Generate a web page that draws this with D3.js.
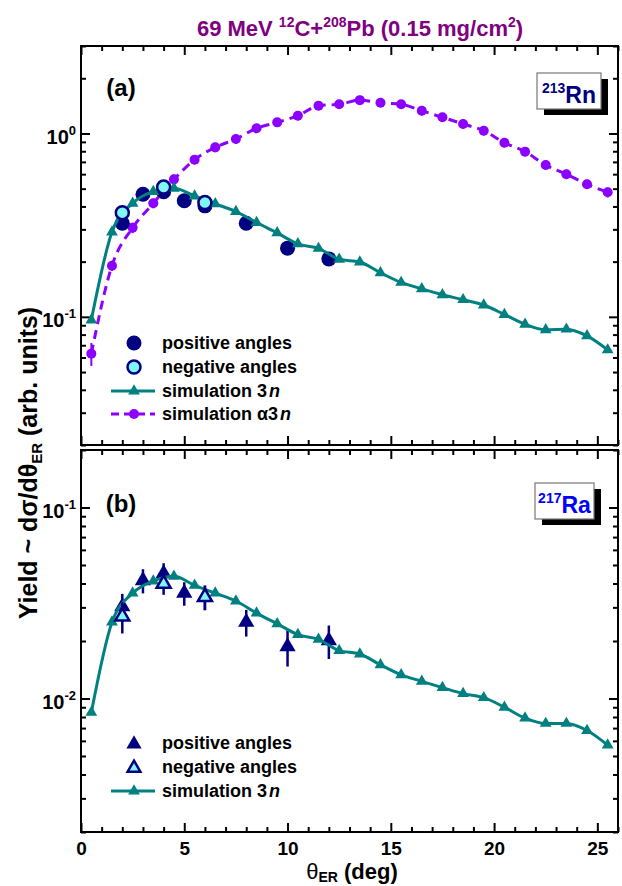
<!DOCTYPE html>
<html>
<head>
<meta charset="utf-8">
<script src="https://cdn.jsdelivr.net/npm/d3@7"></script>
<style>
  body { margin: 0; background: #fff; }
  svg text { font-family: "Liberation Sans", Arial, Helvetica, sans-serif; font-weight: bold; }
</style>
</head>
<body>
<svg id="chart" width="622" height="886"></svg>
<script>
// simulated curves are given at half-degree bin centres
const thetaSim = [0.5, 1.5, 2.5, 3.5, 4.5, 5.5, 6.5, 7.5, 8.5, 9.5, 10.5, 11.5, 12.5,
                  13.5, 14.5, 15.5, 16.5, 17.5, 18.5, 19.5, 20.5, 21.5, 22.5, 23.5, 24.5, 25.5];

// (a) 213Rn
const sim3nA = [0.096, 0.29, 0.416, 0.482, 0.502, 0.456, 0.413, 0.375, 0.327, 0.287, 0.25, 0.236, 0.206,
                0.199, 0.174, 0.154, 0.142, 0.132, 0.124, 0.116, 0.103, 0.091, 0.085, 0.0856, 0.0787, 0.066];
const simA3nA = [0.063, 0.19, 0.306, 0.416, 0.562, 0.72, 0.84, 0.933, 1.067, 1.15, 1.25, 1.418, 1.443,
                 1.52, 1.47, 1.443, 1.33, 1.225, 1.127, 1.035, 0.891, 0.796, 0.673, 0.599, 0.529, 0.478];
const simA3nErr = [0.009, 0.012, 0.02, 0.025, 0.035, 0.04, 0.05, 0.055, 0.06, 0.065, 0.07, 0.08, 0.08,
                   0.085, 0.08, 0.08, 0.075, 0.07, 0.065, 0.06, 0.05, 0.045, 0.04, 0.035, 0.03, 0.03];
const thetaPosA = [2, 3, 4, 5, 6, 8, 10, 12];
const posA = [0.324, 0.466, 0.481, 0.43, 0.403, 0.324, 0.237, 0.207];
const thetaNegA = [2, 4, 6];
const negA = [0.37, 0.51, 0.42];

// (b) 217Ra
const sim3nB = [0.00845, 0.0251, 0.0356, 0.0412, 0.0436, 0.0391, 0.0356, 0.0324, 0.028, 0.0246, 0.0216, 0.0204, 0.0178,
                0.0171, 0.015, 0.0133, 0.0123, 0.0114, 0.0106, 0.0101, 0.009, 0.0079, 0.0074, 0.0074, 0.0068, 0.0057];
const thetaPosB = [2, 3, 4, 5, 6, 8, 10, 12];
const posB = [0.0303, 0.0415, 0.0451, 0.0356, 0.034, 0.0251, 0.0187, 0.0201];
const posBErr = [0.005, 0.006, 0.006, 0.005, 0.005, 0.004, 0.004, 0.004];
const thetaNegB = [2, 4, 6];
const negB = [0.0269, 0.0399, 0.034];
const negBErr = [0.005, 0.005, 0.005];

const xMajor = [0, 5, 10, 15, 20, 25];
const decadesA = [0.1, 1];
const decadesB = [0.01, 0.1];

const TEAL = "#008080", VIOLET = "#8c00ff", NAVY = "#000080", CYAN = "#80f8f8";

const svg = d3.select("#chart");
const x = d3.scaleLinear().domain([0, 26]).range([81, 618]);
const yA = d3.scaleLog().domain([0.02, 3]).range([445, 46]);
const yB = d3.scaleLog().domain([0.002, 0.2]).range([832, 450]);

function styleAxis(sel) {
    sel.select(".domain").remove();
    sel.selectAll(".tick line").attr("stroke", "#000").attr("stroke-width", 2);
}

function drawFrame(y, decades, xLabels) {
    const [bottom, top] = y.range();
    const g = svg.append("g");
    const minorX = d3.range(0, 27).filter(v => v % 5 !== 0);
    const minorY = y.ticks().filter(v => !decades.includes(v));

    const axes = [
        [d3.axisBottom(x), bottom, "x"], [d3.axisTop(x), top, "x"],
        [d3.axisLeft(y), x(0), "y"], [d3.axisRight(y), x(26), "y"]
    ];
    axes.forEach(([ax, pos, dir]) => {
        const tr = dir === "x" ? `translate(0,${pos})` : `translate(${pos},0)`;
        const major = dir === "x" ? xMajor : decades;
        const minor = dir === "x" ? minorX : minorY;
        g.append("g").attr("transform", tr)
            .call(ax.tickValues(minor).tickSize(-5).tickFormat(""))
            .call(styleAxis);
        g.append("g").attr("transform", tr)
            .call(ax.tickValues(major).tickSize(-9).tickFormat(""))
            .call(styleAxis);
    });

    if (xLabels) {
        g.append("g").attr("transform", `translate(0,${bottom})`)
            .call(d3.axisBottom(x).tickValues(xMajor).tickSize(0).tickPadding(10))
            .call(s => s.select(".domain").remove())
            .selectAll("text").attr("font-size", 19).attr("fill", "#000");
    }

    const lab = g.append("g").attr("transform", `translate(${x(0)},0)`)
        .call(d3.axisLeft(y).tickValues(decades).tickSize(0).tickPadding(5).tickFormat(""))
        .call(s => s.select(".domain").remove());
    lab.selectAll(".tick text").attr("dy", 10).attr("font-size", 20).attr("fill", "#000")
        .each(function (d) {
            const t = d3.select(this);
            t.append("tspan").text("10");
            t.append("tspan").attr("font-size", 13).attr("dy", -9).text(Math.round(Math.log10(d)));
        });

    g.append("rect").attr("x", x(0)).attr("y", top)
        .attr("width", x(26) - x(0)).attr("height", bottom - top)
        .attr("fill", "none").attr("stroke", "#000").attr("stroke-width", 2);
}

function curve(y, xs, ys, color, dash) {
    const pts = xs.map((v, i) => [x(v), y(ys[i])]);
    svg.append("path")
        .attr("d", d3.line().curve(d3.curveMonotoneX)(pts))
        .attr("fill", "none").attr("stroke", color).attr("stroke-width", 3)
        .attr("stroke-dasharray", dash || null);
}

function triangles(y, xs, ys, color, size) {
    svg.append("g").selectAll("path").data(xs).join("path")
        .attr("transform", (d, i) => `translate(${x(d)},${y(ys[i])})`)
        .attr("d", d3.symbol(d3.symbolTriangle, size))
        .attr("fill", color);
}

function errBars(y, xs, ys, es, color, w) {
    svg.append("g").selectAll("line").data(xs).join("line")
        .attr("x1", d => x(d)).attr("x2", d => x(d))
        .attr("y1", (d, i) => y(ys[i] - es[i])).attr("y2", (d, i) => y(ys[i] + es[i]))
        .attr("stroke", color).attr("stroke-width", w);
}

// ---------- panel (a)
drawFrame(yA, decadesA, false);
errBars(yA, thetaSim, simA3nA, simA3nErr, VIOLET, 2);
curve(yA, thetaSim, simA3nA, VIOLET, "9,6");
svg.append("g").selectAll("circle").data(thetaSim).join("circle")
    .attr("cx", d => x(d)).attr("cy", (d, i) => yA(simA3nA[i])).attr("r", 5).attr("fill", VIOLET);
svg.append("g").selectAll("circle").data(thetaPosA).join("circle")
    .attr("cx", d => x(d)).attr("cy", (d, i) => yA(posA[i])).attr("r", 7.5).attr("fill", NAVY);
curve(yA, thetaSim, sim3nA, TEAL);
triangles(yA, thetaSim, sim3nA, TEAL, 60);
svg.append("g").selectAll("circle").data(thetaNegA).join("circle")
    .attr("cx", d => x(d)).attr("cy", (d, i) => yA(negA[i])).attr("r", 6.5)
    .attr("fill", CYAN).attr("stroke", NAVY).attr("stroke-width", 2.5);

// ---------- panel (b)
drawFrame(yB, decadesB, true);
errBars(yB, thetaPosB, posB, posBErr, NAVY, 2.5);
triangles(yB, thetaPosB, posB, NAVY, 115);
curve(yB, thetaSim, sim3nB, TEAL);
triangles(yB, thetaSim, sim3nB, TEAL, 60);
errBars(yB, thetaNegB, negB, negBErr, NAVY, 2.5);
svg.append("g").selectAll("path").data(thetaNegB).join("path")
    .attr("transform", (d, i) => `translate(${x(d)},${yB(negB[i])})`)
    .attr("d", d3.symbol(d3.symbolTriangle, 85))
    .attr("fill", CYAN).attr("stroke", NAVY).attr("stroke-width", 2.5);

// ---------- legends
function legendText(yPos, parts) {
    const t = svg.append("text").attr("x", 162).attr("y", yPos).attr("dy", "0.35em")
        .attr("font-size", 18).attr("fill", "#000");
    parts.forEach(p => {
        const s = t.append("tspan").text(p.t);
        if (p.it) s.attr("font-style", "italic").attr("dx", 2);
    });
}
const lx = 134;
// (a)
svg.append("circle").attr("cx", lx).attr("cy", 343).attr("r", 7.5).attr("fill", NAVY);
legendText(343, [{t: "positive angles"}]);
svg.append("circle").attr("cx", lx).attr("cy", 367).attr("r", 6.5).attr("fill", CYAN)
    .attr("stroke", NAVY).attr("stroke-width", 2.5);
legendText(367, [{t: "negative angles"}]);
svg.append("line").attr("x1", 111).attr("x2", 155).attr("y1", 391).attr("y2", 391)
    .attr("stroke", TEAL).attr("stroke-width", 3);
svg.append("path").attr("transform", `translate(${lx},391)`).attr("d", d3.symbol(d3.symbolTriangle, 60)).attr("fill", TEAL);
legendText(391, [{t: "simulation 3"}, {t: "n", it: true}]);
svg.append("line").attr("x1", 111).attr("x2", 155).attr("y1", 414).attr("y2", 414)
    .attr("stroke", VIOLET).attr("stroke-width", 3).attr("stroke-dasharray", "8,5");
svg.append("circle").attr("cx", lx).attr("cy", 414).attr("r", 5).attr("fill", VIOLET);
legendText(414, [{t: "simulation \u03b13"}, {t: "n", it: true}]);
// (b)
svg.append("path").attr("transform", `translate(${lx},744)`).attr("d", d3.symbol(d3.symbolTriangle, 100)).attr("fill", NAVY);
legendText(743, [{t: "positive angles"}]);
svg.append("path").attr("transform", `translate(${lx},768)`).attr("d", d3.symbol(d3.symbolTriangle, 70))
    .attr("fill", CYAN).attr("stroke", NAVY).attr("stroke-width", 2.5);
legendText(767, [{t: "negative angles"}]);
svg.append("line").attr("x1", 111).attr("x2", 155).attr("y1", 791).attr("y2", 791)
    .attr("stroke", TEAL).attr("stroke-width", 3);
svg.append("path").attr("transform", `translate(${lx},791)`).attr("d", d3.symbol(d3.symbolTriangle, 60)).attr("fill", TEAL);
legendText(791, [{t: "simulation 3"}, {t: "n", it: true}]);

// ---------- panel tags and nucleus boxes
svg.append("text").attr("x", 121).attr("y", 96).attr("text-anchor", "middle").attr("font-size", 24).text("(a)");
svg.append("text").attr("x", 121).attr("y", 512).attr("text-anchor", "middle").attr("font-size", 24).text("(b)");

function nucleusBox(bx, by, w, h, mass, sym, color) {
    svg.append("rect").attr("x", bx + 7).attr("y", by + 6).attr("width", w).attr("height", h).attr("fill", "#000");
    svg.append("rect").attr("x", bx).attr("y", by).attr("width", w).attr("height", h)
        .attr("fill", "#fff").attr("stroke", "#777").attr("stroke-width", 1.2);
    const t = svg.append("text").attr("x", bx + w / 2).attr("y", by + h - 6)
        .attr("text-anchor", "middle").attr("fill", color);
    t.append("tspan").attr("font-size", 14).attr("dy", -10).text(mass);
    t.append("tspan").attr("font-size", 23).attr("dy", 10).text(sym);
}
nucleusBox(537, 73, 64, 36, "213", "Rn", NAVY);
nucleusBox(535, 483, 59, 36, "217", "Ra", "#0000ff");

// ---------- titles
const title = svg.append("text").attr("x", 360).attr("y", 36).attr("text-anchor", "middle")
    .attr("font-size", 22).attr("fill", "#800080");
[["69 MeV ", 0], ["12", 1], ["C+", 0], ["208", 1], ["Pb (0.15 mg/cm", 0], ["2", 1], [")", 0]]
    .forEach(([s, sup], i, arr) => {
        const prev = i > 0 ? arr[i - 1][1] : 0;
        title.append("tspan").attr("font-size", sup ? 14 : 22)
            .attr("dy", sup === prev ? 0 : (sup ? -9 : 9)).text(s);
    });

const xt = svg.append("text").attr("x", 352).attr("y", 879).attr("text-anchor", "middle").attr("font-size", 22);
xt.append("tspan").attr("font-weight", "normal").text("\u03b8");
xt.append("tspan").attr("font-size", 14).attr("dy", 3).text("ER");
xt.append("tspan").attr("dy", -3).text(" (deg)");

const yt = svg.append("text").attr("transform", "translate(37,463) rotate(-90)")
    .attr("text-anchor", "middle").attr("font-size", 25);
yt.append("tspan").text("Yield ~ d\u03c3/d\u03b8");
yt.append("tspan").attr("font-size", 15).attr("dy", 5).text("ER");
yt.append("tspan").attr("dy", -5).text(" (arb. units)");
</script>
</body>
</html>
